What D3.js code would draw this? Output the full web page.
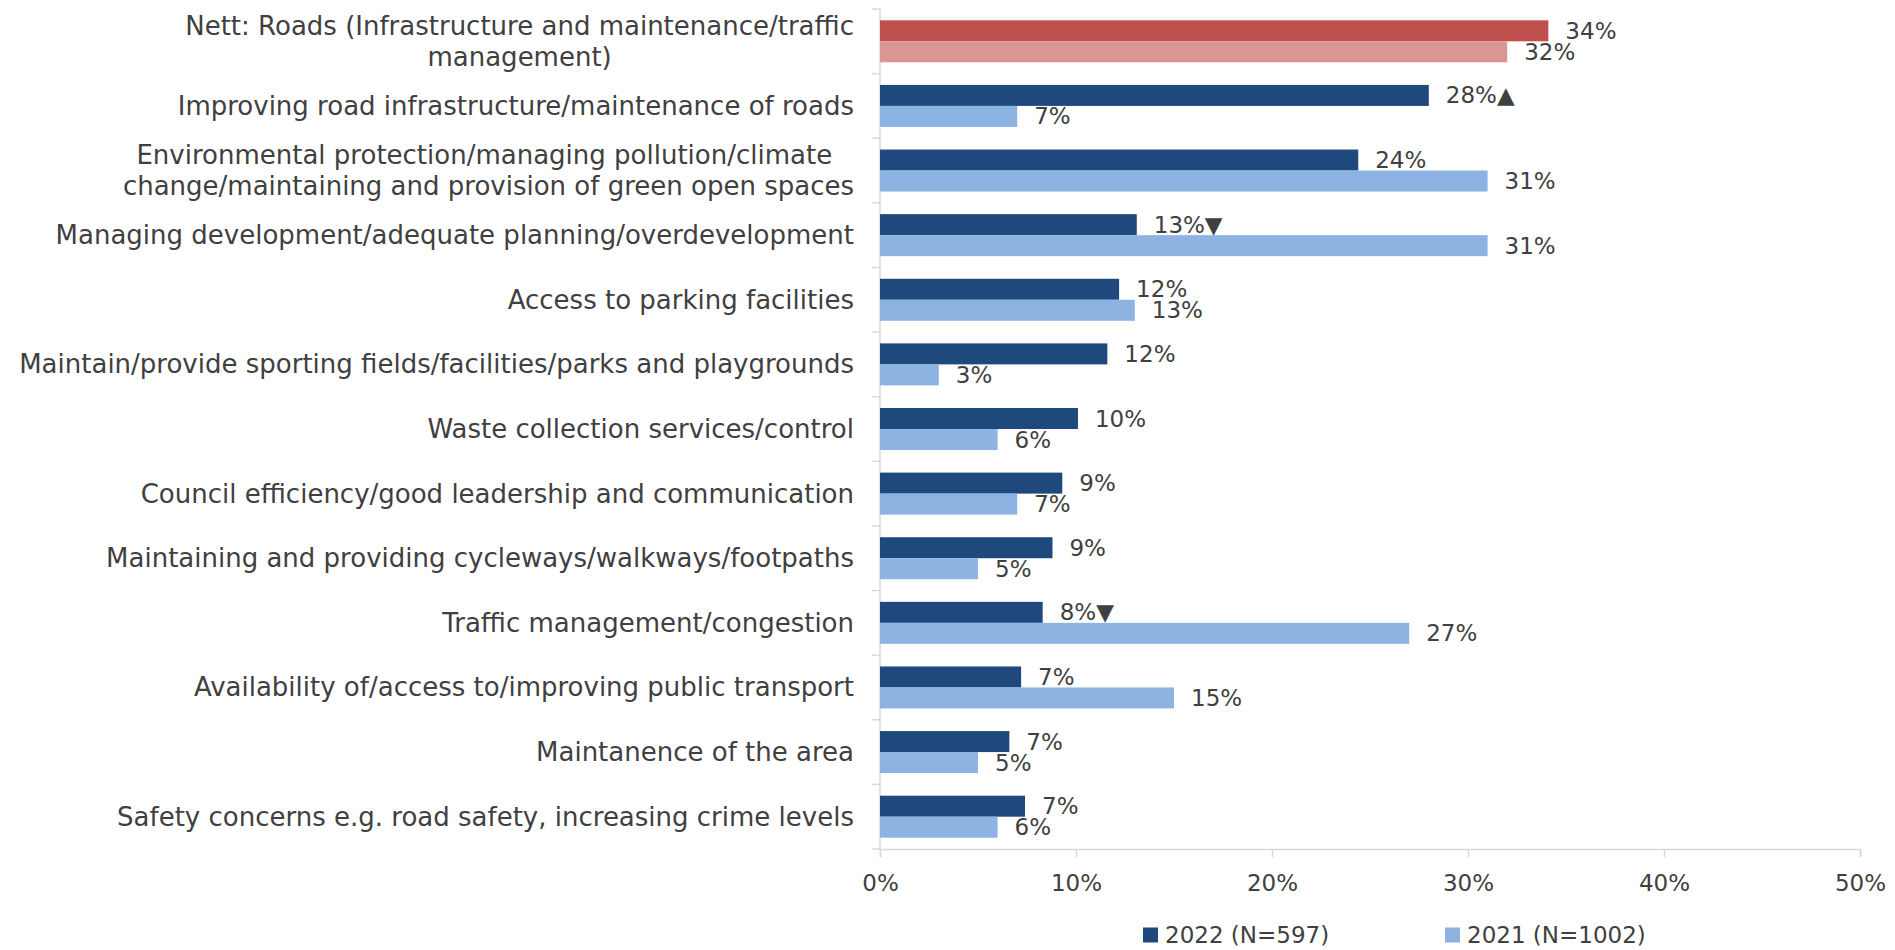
<!DOCTYPE html>
<html>
<head>
<meta charset="utf-8">
<script src="https://cdn.jsdelivr.net/npm/d3@7"></script>
<style>
  html, body { margin: 0; padding: 0; background: #fff; }
  svg text { font-family: "DejaVu Sans", sans-serif; fill: #404040; }
</style>
</head>
<body>
<div id="vis"></div>
<script>
// categories (each entry = lines of the label)
var categories = [
  ["Nett: Roads (Infrastructure and maintenance/traffic", "management)"],
  ["Improving road infrastructure/maintenance of roads"],
  ["Environmental protection/managing pollution/climate ", "change/maintaining and provision of green open spaces"],
  ["Managing development/adequate planning/overdevelopment"],
  ["Access to parking facilities"],
  ["Maintain/provide sporting fields/facilities/parks and playgrounds"],
  ["Waste collection services/control"],
  ["Council efficiency/good leadership and communication"],
  ["Maintaining and providing cycleways/walkways/footpaths"],
  ["Traffic management/congestion"],
  ["Availability of/access to/improving public transport"],
  ["Maintanence of the area"],
  ["Safety concerns e.g. road safety, increasing crime levels"]
];

var values2022 = [34.1, 28.0, 24.4, 13.1, 12.2, 11.6, 10.1, 9.3, 8.8, 8.3, 7.2, 6.6, 7.4];
var values2021 = [32.0, 7.0, 31.0, 31.0, 13.0, 3.0, 6.0, 7.0, 5.0, 27.0, 15.0, 5.0, 6.0];

// significance markers for 2022
var markers2022 = ["", "▲", "", "▼", "", "", "", "", "", "▼", "", "", ""];

var seriesNames = ["2022 (N=597)", "2021 (N=1002)"];
var xTicks = [0, 10, 20, 30, 40, 50];

// colours
var colors = { "2022": "#1F497D", "2021": "#8DB3E2" };
var colorsNett = { "2022": "#C0504D", "2021": "#DA9694" };

var width = 1895;
var height = 950;

var svg = d3.select('#vis')
    .append('svg')
    .attr('width', width)
    .attr('height', height);

var keys = categories.map(function (d, i) { return i; });

// scales
var x = d3.scaleLinear().domain([0, 50]).range([880, 1860]);

var y0 = d3.scaleBand()
    .domain(keys)
    .range([9, 849])
    .paddingInner(0.35)
    .paddingOuter(0.175);

var y1 = d3.scaleBand()
    .domain(["2022", "2021"])
    .range([0, y0.bandwidth()]);

var rows = keys.map(function (i) {
  return [
    { idx: i, key: "2022", value: values2022[i], mark: markers2022[i] },
    { idx: i, key: "2021", value: values2021[i], mark: "" }
  ];
});

// axes lines
var axisColor = "#d9d9d9";
var step = y0.step();
var yTop = 9, yBottom = 849;

svg.append('line')
    .attr('x1', x(0)).attr('x2', x(0))
    .attr('y1', yTop).attr('y2', yBottom)
    .attr('stroke', axisColor).attr('stroke-width', 1.5);

svg.selectAll('.ytick')
    .data(d3.range(categories.length + 1))
    .enter().append('line')
    .attr('x1', x(0) - 8).attr('x2', x(0))
    .attr('y1', function (d) { return yTop + d * step; })
    .attr('y2', function (d) { return yTop + d * step; })
    .attr('stroke', axisColor).attr('stroke-width', 1.5);

var xAxis = svg.append('g')
    .attr('transform', 'translate(0,' + yBottom + ')')
    .call(d3.axisBottom(x).tickValues(xTicks).tickSize(8).tickPadding(18)
      .tickFormat(function (d) { return d + '%'; }));

xAxis.select('.domain').attr('stroke', axisColor).attr('stroke-width', 1.5);
xAxis.selectAll('.tick line').attr('stroke', axisColor).attr('stroke-width', 1.5);
xAxis.selectAll('.tick text')
    .attr('font-size', 23)
    .style('font-family', '"DejaVu Sans", sans-serif')
    .attr('fill', '#404040');

// bars
var groups = svg.selectAll('.grp')
    .data(rows)
    .enter().append('g')
    .attr('class', 'grp')
    .attr('transform', function (d, i) { return 'translate(0,' + y0(i) + ')'; });

groups.selectAll('rect')
    .data(function (d) { return d; })
    .enter().append('rect')
    .attr('x', x(0))
    .attr('y', function (d) { return y1(d.key); })
    .attr('height', y1.bandwidth())
    .attr('width', function (d) { return x(d.value) - x(0); })
    .attr('fill', function (d) { return d.idx === 0 ? colorsNett[d.key] : colors[d.key]; });

groups.selectAll('.val')
    .data(function (d) { return d; })
    .enter().append('text')
    .attr('class', 'val')
    .attr('x', function (d) { return x(d.value) + 17; })
    .attr('y', function (d) { return y1(d.key) + y1.bandwidth() / 2; })
    .attr('dominant-baseline', 'central')
    .attr('font-size', 23)
    .text(function (d) { return Math.round(d.value) + '%' + d.mark; });

// category labels, multi-line ones centred on each other
var labelRight = 854;
var lineGap = 31;

var labels = svg.selectAll('.cat')
    .data(categories)
    .enter().append('text')
    .attr('class', 'cat')
    .attr('font-size', 26)
    .style('white-space', 'pre');

labels.each(function (lines, i) {
  var t = d3.select(this);
  var cy = y0(i) + y0.bandwidth() / 2;
  var first = cy - (lines.length - 1) * lineGap / 2;
  lines.forEach(function (ln, j) {
    t.append('tspan')
      .attr('y', first + j * lineGap)
      .attr('dominant-baseline', 'central')
      .text(ln);
  });
  var spans = t.selectAll('tspan').nodes();
  var maxW = d3.max(spans, function (s) { return s.getComputedTextLength(); });
  t.selectAll('tspan')
    .attr('x', labelRight - maxW / 2)
    .attr('text-anchor', 'middle');
});

// legend
var legendX = [1143, 1445];
var legend = svg.selectAll('.leg')
    .data(seriesNames)
    .enter().append('g')
    .attr('class', 'leg')
    .attr('transform', function (d, i) { return 'translate(' + legendX[i] + ',935)'; });

legend.append('rect')
    .attr('x', 0).attr('y', -7.5)
    .attr('width', 15).attr('height', 15)
    .attr('fill', function (d, i) { return i === 0 ? colors["2022"] : colors["2021"]; });

legend.append('text')
    .attr('x', 22)
    .attr('y', 0)
    .attr('dominant-baseline', 'central')
    .attr('font-size', 23)
    .text(function (d) { return d; });
</script>
</body>
</html>
